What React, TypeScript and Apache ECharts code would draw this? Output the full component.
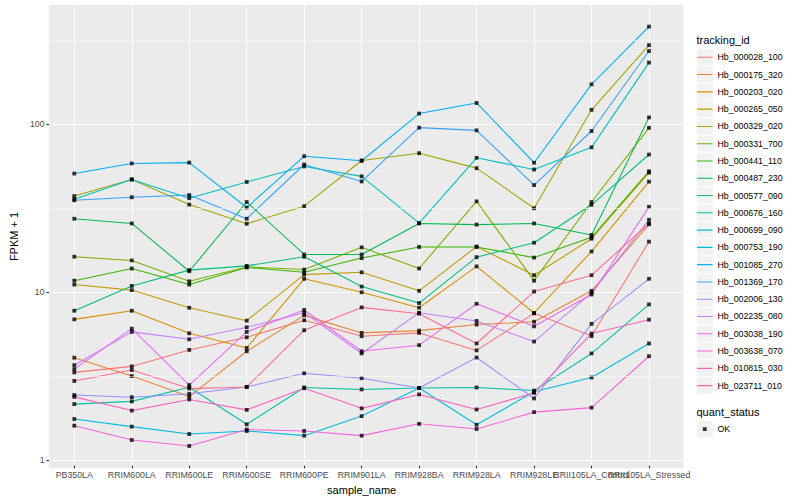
import React, { useEffect, useRef } from "react";
import * as echarts from "echarts";

const categories = [
  "PB350LA", "RRIM600LA", "RRIM600LE", "RRIM600SE", "RRIM600PE", "RRIM901LA",
  "RRIM928BA", "RRIM928LA", "RRIM928LE", "RRII105LA_Control", "RRII105LA_Stressed",
];

const seriesNames = [
  "Hb_000028_100", "Hb_000175_320", "Hb_000203_020", "Hb_000265_050", "Hb_000329_020",
  "Hb_000331_700", "Hb_000441_110", "Hb_000487_230", "Hb_000577_090", "Hb_000676_160",
  "Hb_000699_090", "Hb_000753_190", "Hb_001085_270", "Hb_001369_170", "Hb_002006_130",
  "Hb_002235_080", "Hb_003038_190", "Hb_003638_070", "Hb_010815_030", "Hb_023711_010",
];

const seriesColors = [
  "#F8766D", "#EA8331", "#D89000", "#C09B00", "#A3A500", "#7CAE00", "#39B600", "#00BB4E",
  "#00BF7D", "#00C1A3", "#00BFC4", "#00BAE0", "#00B0F6", "#35A2FF", "#9590FF", "#C77CFF",
  "#E76BF3", "#FA62DB", "#FF62BC", "#FF6C91",
];

const hb000028 = [3.25, 3.53, 4.43, 5.27, 6.66, 5.35, 5.6, 4.4, 7.33, 5.36, 19.7];
const hb000175 = [3.98, 3.09, 2.33, 4.35, 7.13, 5.6, 5.78, 6.28, 6.53, 10.0, 25.0];
const hb000203 = [6.75, 7.6, 5.57, 4.55, 11.8, 9.8, 7.92, 14.0, 7.37, 17.2, 45.0];
const hb000265 = [10.9, 10.1, 7.92, 6.63, 12.5, 12.9, 10.0, 18.4, 12.4, 20.5, 50.9];
const hb000329 = [36.9, 46.4, 32.8, 25.2, 32.1, 60.2, 66.6, 54.2, 31.2, 121, 295];
const hb000331 = [16.0, 15.2, 11.4, 13.9, 13.4, 18.2, 13.6, 34.3, 11.5, 34.0, 94.4];
const hb000441 = [11.5, 13.6, 10.9, 13.8, 12.9, 15.7, 18.3, 18.3, 15.8, 20.9, 51.9];
const hb000487 = [27.0, 25.3, 13.1, 34.0, 16.5, 16.5, 25.3, 24.9, 25.3, 21.6, 109];
const hb000577 = [7.6, 10.7, 13.3, 14.1, 16.0, 10.6, 8.45, 15.9, 19.4, 32.7, 65.4];
const hb000676 = [2.1, 2.18, 2.65, 1.59, 2.64, 2.57, 2.62, 2.64, 2.53, 4.22, 8.29];
const hb000699 = [35.3, 46.4, 35.8, 44.8, 55.5, 48.4, 25.4, 62.5, 53.2, 72.2, 232];
const hb000753 = [1.71, 1.54, 1.39, 1.45, 1.36, 1.78, 2.62, 1.58, 2.49, 3.03, 4.84];
const hb001085 = [50.3, 57.8, 58.5, 31.5, 63.9, 60.0, 115, 133, 58.4, 172, 381];
const hb001369 = [34.8, 36.3, 37.4, 27.0, 57.0, 45.1, 94.7, 91.2, 42.9, 90.4, 272];
const hb002006 = [2.38, 2.31, 2.42, 2.66, 3.21, 3.0, 2.62, 3.99, 2.27, 6.34, 11.8];
const hb002235 = [3.59, 5.68, 5.13, 6.05, 7.4, 4.22, 7.4, 6.6, 4.97, 9.73, 26.6];
const hb003038 = [3.4, 5.94, 2.73, 5.68, 7.68, 4.35, 4.73, 8.37, 6.13, 9.5, 31.8];
const hb003638 = [1.56, 1.28, 1.18, 1.48, 1.45, 1.36, 1.6, 1.49, 1.88, 2.0, 4.06];
const hb010815 = [2.32, 1.92, 2.24, 1.94, 2.61, 1.98, 2.4, 1.95, 2.45, 5.55, 6.72];
const hb023711 = [2.89, 3.36, 2.6, 2.66, 5.81, 7.96, 7.3, 4.84, 9.9, 12.4, 25.3];

const seriesValues = [
  hb000028, hb000175, hb000203, hb000265, hb000329, hb000331, hb000441, hb000487,
  hb000577, hb000676, hb000699, hb000753, hb001085, hb001369, hb002006, hb002235,
  hb003038, hb003638, hb010815, hb023711,
];

const yTickValues = [1, 10, 100];
const yMinorValues = [3.1623, 31.623, 316.23];
const yMin = 0.9;
const yMax = 513;
const quantStatus = "OK";

export default function App() {
  const ref = useRef<HTMLDivElement>(null);

  useEffect(() => {
    document.body.style.margin = "0";
    const chart = echarts.init(ref.current!, null, { renderer: "svg" });
    const font = "'Liberation Sans', Arial, Helvetica, sans-serif";

    const keyW = 15.5;
    const keyH = 17.28;
    const corners = `M0,0 L0.01,0 L0,0.01 Z M${keyW},${keyH} L${keyW - 0.01},${keyH} L${keyW},${keyH - 0.01} Z`;
    const lineIcon = `path://${corners} M0,8.1 L${keyW},8.1 L${keyW},9.18 L0,9.18 Z`;
    const sq = 3.8;
    const sx = (keyW - sq) / 2;
    const sy = (keyH - sq) / 2;
    const squareIcon = `path://${corners} M${sx},${sy} L${sx + sq},${sy} L${sx + sq},${sy + sq} L${sx},${sy + sq} Z`;

    const legendTop = 48.66;
    const okTop = 420.4;

    const keyRects: any[] = seriesNames.map((_, i) => ({
      type: "rect",
      silent: true,
      shape: { x: 696.8, y: legendTop + i * keyH, width: keyW + 1, height: keyH },
      style: { fill: "#F2F2F2", stroke: "#FFFFFF", lineWidth: 1 },
    }));
    keyRects.push({
      type: "rect",
      silent: true,
      shape: { x: 696.8, y: okTop, width: keyW + 1, height: keyH },
      style: { fill: "#F2F2F2", stroke: "#FFFFFF", lineWidth: 1 },
    });

    const pointData: any[] = [];
    seriesValues.forEach((vals) => {
      vals.forEach((v, i) => pointData.push([i, v]));
    });

    const lineSeries = seriesNames.map((name, i) => ({
      type: "line",
      name,
      xAxisIndex: 1,
      yAxisIndex: 1,
      data: seriesValues[i],
      symbol: "none",
      showSymbol: false,
      silent: true,
      z: 2,
      lineStyle: { color: seriesColors[i], width: 1.07 },
      itemStyle: { color: seriesColors[i] },
      emphasis: { disabled: true },
    }));

    const option: any = {
      animation: false,
      backgroundColor: "#FFFFFF",
      textStyle: { fontFamily: font },
      color: seriesColors,
      grid: [
        { left: 39.8, right: 116.5, top: 5, bottom: 32, show: true, backgroundColor: "#EBEBEB", borderWidth: 0 },
        { left: 74.3, right: 151, top: 5, bottom: 32, show: false },
      ],
      xAxis: [
        { type: "value", gridIndex: 0, min: 0, max: 1, show: false },
        {
          type: "category",
          gridIndex: 1,
          data: categories,
          boundaryGap: false,
          axisLine: { show: false },
          axisTick: { show: true, interval: 0, length: 2.75, lineStyle: { color: "#333333", width: 1.07 } },
          axisLabel: { interval: 0, hideOverlap: false, fontSize: 8.8, color: "#4D4D4D", margin: 4.5, fontFamily: font },
          splitLine: { show: true, interval: 0, lineStyle: { color: "#FFFFFF", width: 1.07 } },
          name: "sample_name",
          nameLocation: "middle",
          nameGap: 13,
          nameTextStyle: { fontSize: 11, color: "#000000", fontFamily: font },
        },
      ],
      yAxis: [
        {
          type: "log",
          logBase: 10,
          gridIndex: 0,
          min: yMin,
          max: yMax,
          axisLine: { show: false },
          axisTick: { show: true, length: 2.75, customValues: yTickValues, lineStyle: { color: "#333333", width: 1.07 } },
          axisLabel: {
            customValues: yTickValues,
            fontSize: 8.8,
            color: "#4D4D4D",
            margin: 4.5,
            fontFamily: font,
            formatter: (v: number) => String(Math.round(v)),
          },
          splitLine: { show: true, lineStyle: { color: "#FFFFFF", width: 1.07 } },
          name: "FPKM + 1",
          nameLocation: "middle",
          nameRotate: 90,
          nameGap: 20.5,
          nameTextStyle: { fontSize: 11, color: "#000000", fontFamily: font },
        },
        { type: "log", logBase: 10, gridIndex: 1, min: yMin, max: yMax, show: false },
      ],
      legend: [
        {
          orient: "vertical",
          left: 697,
          top: legendTop,
          padding: 0,
          itemGap: 0,
          itemWidth: keyW,
          itemHeight: keyH,
          icon: lineIcon,
          selectedMode: false,
          itemStyle: { borderWidth: 0 },
          textStyle: { fontFamily: font, fontSize: 8.8, color: "#000000", lineHeight: keyH },
          data: seriesNames.map((n, i) => ({ name: n, itemStyle: { color: seriesColors[i], borderWidth: 0 } })),
        },
        {
          orient: "vertical",
          left: 697,
          top: okTop,
          padding: 0,
          itemGap: 0,
          itemWidth: keyW,
          itemHeight: keyH,
          icon: squareIcon,
          selectedMode: false,
          itemStyle: { borderWidth: 0 },
          textStyle: { fontFamily: font, fontSize: 8.8, color: "#000000", lineHeight: keyH },
          data: [{ name: quantStatus, itemStyle: { color: "#000000", borderWidth: 0 } }],
        },
      ],
      graphic: [
        ...keyRects,
        {
          type: "text",
          silent: true,
          x: 696.5,
          y: 40,
          style: { text: "tracking_id", fontSize: 11, fontFamily: font, fill: "#000000", align: "left", verticalAlign: "middle" },
        },
        {
          type: "text",
          silent: true,
          x: 696.5,
          y: 411.5,
          style: { text: "quant_status", fontSize: 11, fontFamily: font, fill: "#000000", align: "left", verticalAlign: "middle" },
        },
      ],
      series: [
        {
          type: "line",
          xAxisIndex: 0,
          yAxisIndex: 0,
          data: [],
          silent: true,
          z: 1,
          markLine: {
            silent: true,
            symbol: ["none", "none"],
            label: { show: false },
            lineStyle: { color: "#FFFFFF", width: 0.53, type: "solid" },
            data: yMinorValues.map((v) => ({ yAxis: v })),
          },
        },
        ...lineSeries,
        {
          type: "scatter",
          name: quantStatus,
          xAxisIndex: 1,
          yAxisIndex: 1,
          data: pointData,
          symbol: "rect",
          symbolSize: 3.8,
          silent: true,
          z: 3,
          itemStyle: { color: "#000000" },
          emphasis: { disabled: true },
        },
      ],
    };

    chart.setOption(option);
    return () => chart.dispose();
  }, []);

  return <div ref={ref} style={{ position: "absolute", left: 0, top: 0, width: 800, height: 500 }} />;
}
